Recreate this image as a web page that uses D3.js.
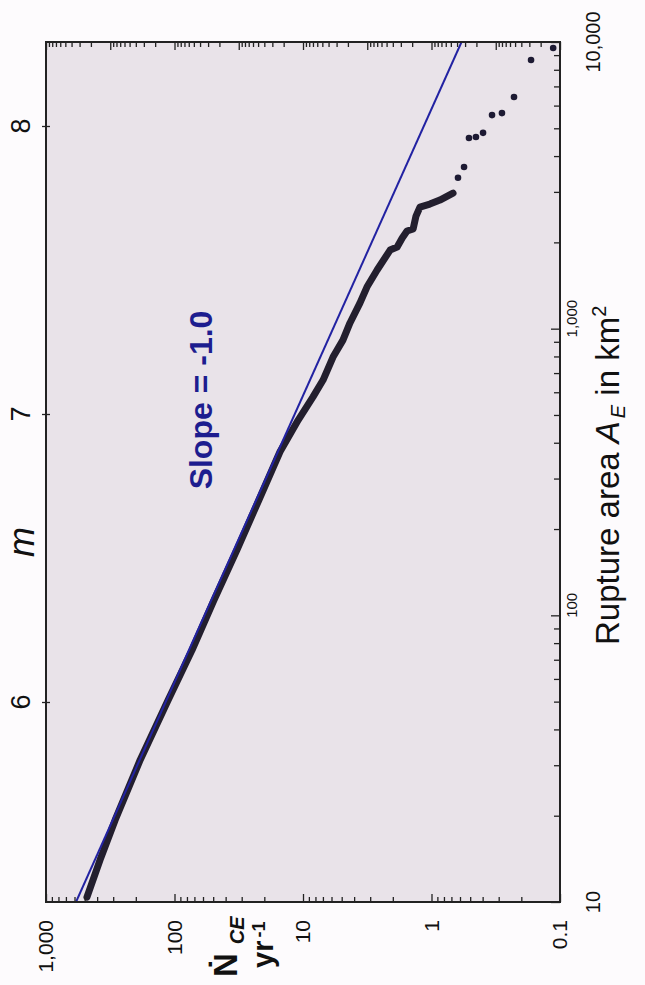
<!DOCTYPE html>
<html lang="en">
<head>
  <meta charset="UTF-8" />
  <title>Rupture area vs. rate</title>
  <script src="https://cdn.jsdelivr.net/npm/d3@7"></script>
  <style>
    html, body {
      margin: 0;
      background: #fdfbfd;
    }
    body {
      font-family: Arial, "Liberation Sans", Helvetica, sans-serif;
    }
    .axis path { display: none; }
    .axis line { stroke: #222; stroke-width: 1.3; }
  </style>
</head>
<body>
  <svg id="chart" width="645" height="985"></svg>
  <script>
    // dense part of the cumulative curve (area km^2, rate per yr)
    const curveArea = [10.4, 14.0, 19.3, 31.3, 50.7, 75.7, 113, 169, 253, 372, 480, 578, 662,
                       796, 912, 1047, 1230, 1397, 1602, 1880, 1926, 2070, 2190, 2228, 2470,
                       2655, 2720, 2810, 2970];
    const curveRate = [480, 380, 290, 185, 112, 73, 49.3, 32.7, 22.0, 15.1, 10.9, 8.36, 6.98,
                       5.84, 4.89, 4.31, 3.60, 3.18, 2.65, 2.10, 1.85, 1.69, 1.55, 1.39, 1.32,
                       1.23, 1.03, 0.86, 0.68];
    // the largest events, drawn as single dots
    const tailArea = [3360, 3665, 4625, 4665, 4820, 5560, 5650, 6430, 8650, 9530];
    const tailRate = [0.622, 0.558, 0.511, 0.451, 0.397, 0.338, 0.283, 0.228, 0.168, 0.113];
    // slope -1 reference line
    const fitArea = [10, 10000];
    const fitRate = [584, 0.584];

    const rateTicks = [1000, 100, 10, 1, 0.1];
    const rateLabels = ["1,000", "100", "10", "1", "0.1"];
    const areaTicks = [10, 100, 1000, 10000];
    const areaLabels = ["10", "100", "1,000", "10,000"];
    const magTicks = [6, 7, 8];

    const svg = d3.select("#chart");
    const box = {left: 46, right: 560, top: 42, bottom: 902};

    const x = d3.scaleLog().domain([1000, 0.1]).range([box.left, box.right]);
    const y = d3.scaleLog().domain([10, 10000]).range([box.bottom, box.top]);
    const mag = d3.scaleLinear().domain([6, 8]).range([702, 126]);
    const xTop = d3.scaleLog().domain([1e4, 1e-4]).range([box.left, box.right]);

    const isDecade = d => Math.abs(Math.log10(d) - Math.round(Math.log10(d))) < 1e-6;

    // plot background
    svg.append("rect")
      .attr("x", box.left).attr("y", box.top)
      .attr("width", box.right - box.left).attr("height", box.bottom - box.top)
      .attr("fill", "#e9e3e9");

    svg.append("clipPath").attr("id", "clip")
      .append("rect")
      .attr("x", box.left).attr("y", box.top)
      .attr("width", box.right - box.left).attr("height", box.bottom - box.top);

    const plot = svg.append("g").attr("clip-path", "url(#clip)");

    // data
    const curve = curveArea.map((a, i) => [a, curveRate[i]]);
    plot.append("path")
      .datum(curve)
      .attr("fill", "none")
      .attr("stroke", "#231f2e")
      .attr("stroke-width", 7)
      .attr("stroke-linecap", "round")
      .attr("stroke-linejoin", "round")
      .attr("d", d3.line().x(d => x(d[1])).y(d => y(d[0])));

    plot.selectAll("circle.tail")
      .data(tailArea.map((a, i) => [a, tailRate[i]]))
      .enter().append("circle")
        .attr("class", "tail")
        .attr("cx", d => x(d[1]))
        .attr("cy", d => y(d[0]))
        .attr("r", 3.3)
        .attr("fill", "#1d1a33");

    // fit line
    plot.append("path")
      .datum(fitArea.map((a, i) => [a, fitRate[i]]))
      .attr("fill", "none")
      .attr("stroke", "#2222a2")
      .attr("stroke-width", 2)
      .attr("d", d3.line().x(d => x(d[1])).y(d => y(d[0])));

    // ticks
    const rateAll = x.ticks();
    const topAll = xTop.ticks();
    const areaAll = y.ticks();

    function ticks(axisFn, scale, values, size, transform) {
      svg.append("g")
        .attr("class", "axis")
        .attr("transform", transform)
        .call(axisFn(scale).tickValues(values).tickSize(size).tickFormat(""));
    }

    ticks(d3.axisTop, x, rateAll.filter(d => !isDecade(d)), 5, `translate(0,${box.bottom})`);
    ticks(d3.axisTop, x, rateAll.filter(isDecade), 8, `translate(0,${box.bottom})`);
    ticks(d3.axisBottom, xTop, topAll.filter(d => !isDecade(d)), 5, `translate(0,${box.top})`);
    ticks(d3.axisBottom, xTop, topAll.filter(isDecade), 8, `translate(0,${box.top})`);
    ticks(d3.axisLeft, y, areaAll.filter(d => !isDecade(d)), 6, `translate(${box.right},0)`);
    ticks(d3.axisLeft, y, areaAll.filter(isDecade), 9, `translate(${box.right},0)`);
    ticks(d3.axisLeft, mag, magTicks, 4, `translate(${box.left},0)`);
    ticks(d3.axisRight, mag, magTicks, 4, `translate(${box.left},0)`);

    // frame
    svg.append("rect")
      .attr("x", box.left).attr("y", box.top)
      .attr("width", box.right - box.left).attr("height", box.bottom - box.top)
      .attr("fill", "none")
      .attr("stroke", "#222")
      .attr("stroke-width", 2);

    // all text in the figure reads bottom to top
    function vtext(cx, cy, size) {
      return svg.append("text")
        .attr("transform", `translate(${cx},${cy}) rotate(-90)`)
        .style("font-size", size + "px")
        .attr("fill", "#111");
    }

    rateTicks.forEach((v, i) => {
      vtext(x(v), 920, 21)
        .attr("text-anchor", "end")
        .attr("dy", "0.35em")
        .text(rateLabels[i]);
    });

    areaTicks.forEach((v, i) => {
      const big = (i === 0 || i === 3);
      vtext(big ? 593 : 572, y(v) - (big ? 0 : 10), big ? 20 : 15)
        .attr("text-anchor", "middle")
        .attr("dy", "0.35em")
        .text(areaLabels[i]);
    });

    magTicks.forEach(v => {
      vtext(21, mag(v), 27)
        .attr("text-anchor", "middle")
        .attr("dy", "0.35em")
        .text(v);
    });

    vtext(34, 542, 36)
      .attr("text-anchor", "middle")
      .style("font-style", "italic")
      .text("m");

    // rate axis title
    const nLab = vtext(237, 977, 33).style("font-weight", "bold");
    nLab.append("tspan").text("\u1E44");
    nLab.append("tspan").attr("dx", 9).attr("dy", 7)
      .style("font-size", "20px").style("font-style", "italic").text("CE");

    const yrLab = vtext(273, 968, 29).style("font-weight", "bold");
    yrLab.append("tspan").text("yr");
    yrLab.append("tspan").attr("dx", 3).attr("dy", -8)
      .style("font-size", "18px").text("-1");

    // area axis title
    const aLab = vtext(619, 645, 33);
    aLab.append("tspan").text("Rupture area ");
    aLab.append("tspan").style("font-style", "italic").text("A");
    aLab.append("tspan").attr("dx", 3).attr("dy", 6).style("font-size", "20px").style("font-style", "italic").text("E");
    aLab.append("tspan").attr("dy", -6).text(" in km");
    aLab.append("tspan").attr("dy", -13).style("font-size", "20px").text("2");

    // slope annotation
    vtext(212, 400, 32)
      .attr("text-anchor", "middle")
      .style("font-weight", "bold")
      .attr("fill", "#1d1d8f")
      .text("Slope = -1.0");
  </script>
</body>
</html>
